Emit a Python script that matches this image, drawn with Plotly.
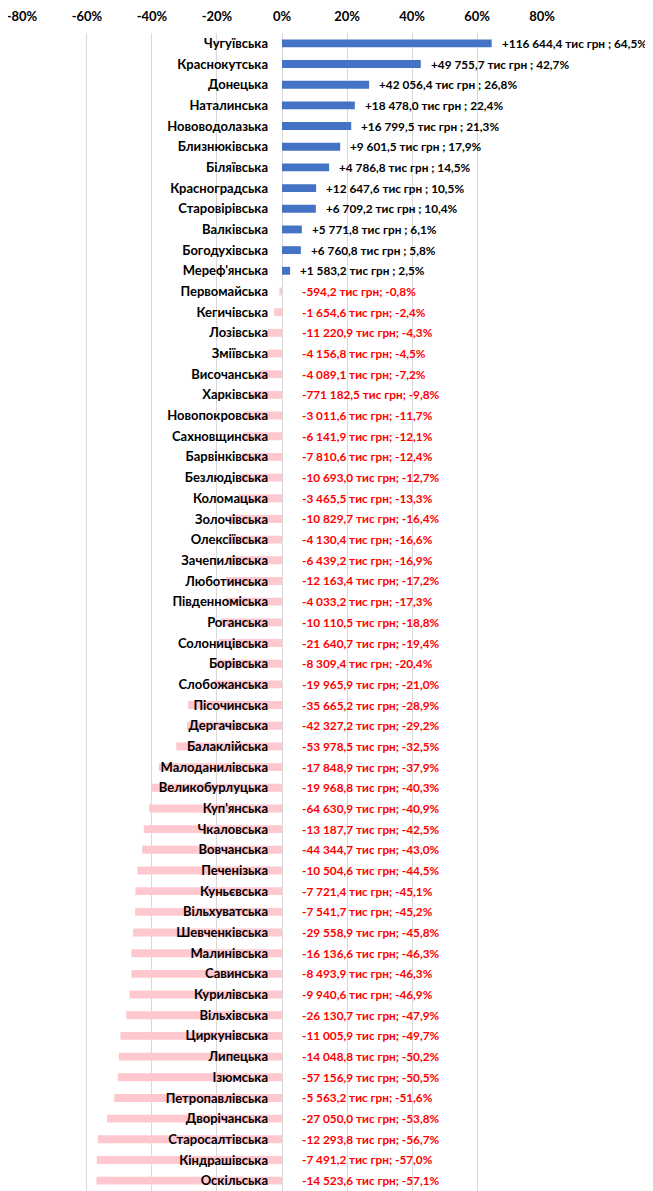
import plotly.graph_objects as go

categories = ["Чугуївська", "Краснокутська", "Донецька", "Наталинська", "Нововодолазька",
              "Близнюківська", "Біляївська", "Красноградська", "Старовірівська", "Валківська",
              "Богодухівська", "Мереф'янська", "Первомайська", "Кегичівська", "Лозівська",
              "Зміївська", "Височанська", "Харківська", "Новопокровська", "Сахновщинська",
              "Барвінківська", "Безлюдівська", "Коломацька", "Золочівська", "Олексіївська",
              "Зачепилівська", "Люботинська", "Південноміська", "Роганська", "Солоницівська",
              "Борівська", "Слобожанська", "Пісочинська", "Дергачівська", "Балаклійська",
              "Малоданилівська", "Великобурлуцька", "Куп'янська", "Чкаловська", "Вовчанська",
              "Печенізька", "Куньєвська", "Вільхуватська", "Шевченківська", "Малинівська",
              "Савинська", "Курилівська", "Вільхівська", "Циркунівська", "Липецька",
              "Ізюмська", "Петропавлівська", "Дворічанська", "Старосалтівська", "Кіндрашівська",
              "Оскільська"]

pct_change = [64.5, 42.7, 26.8, 22.4, 21.3, 17.9, 14.5, 10.5, 10.4, 6.1,
              5.8, 2.5, -0.8, -2.4, -4.3, -4.5, -7.2, -9.8, -11.7, -12.1,
              -12.4, -12.7, -13.3, -16.4, -16.6, -16.9, -17.2, -17.3, -18.8, -19.4,
              -20.4, -21.0, -28.9, -29.2, -32.5, -37.9, -40.3, -40.9, -42.5, -43.0,
              -44.5, -45.1, -45.2, -45.8, -46.3, -46.3, -46.9, -47.9, -49.7, -50.2,
              -50.5, -51.6, -53.8, -56.7, -57.0, -57.1]

amount_change = [116644.4, 49755.7, 42056.4, 18478.0, 16799.5, 9601.5, 4786.8, 12647.6, 6709.2, 5771.8,
                 6760.8, 1583.2, -594.2, -1654.6, -11220.9, -4156.8, -4089.1, -771182.5, -3011.6, -6141.9,
                 -7810.6, -10693.0, -3465.5, -10829.7, -4130.4, -6439.2, -12163.4, -4033.2, -10110.5, -21640.7,
                 -8309.4, -19965.9, -35665.2, -42327.2, -53978.5, -17848.9, -19968.8, -64630.9, -13187.7, -44344.7,
                 -10504.6, -7721.4, -7541.7, -29558.9, -16136.6, -8493.9, -9940.6, -26130.7, -11005.9, -14048.8,
                 -57156.9, -5563.2, -27050.0, -12293.8, -7491.2, -14523.6]

x_tick_vals = [-80, -60, -40, -20, 0, 20, 40, 60, 80]
x_tick_text = ["-80%", "-60%", "-40%", "-20%", "0%", "20%", "40%", "60%", "80%"]

FONT = "Lato"
BLUE = "#4472C4"
PINK = "#FFC7CE"
RED = "#FF0000"


def fmt_num(v):
    return f"{abs(v):,.1f}".replace(",", " ").replace(".", ",")


def fmt_pct(p):
    return f"{p:.1f}".replace(".", ",") + "%"


bar_colors = [BLUE if p >= 0 else PINK for p in pct_change]

fig = go.Figure()
fig.add_trace(go.Bar(
    y=categories, x=pct_change, orientation="h",
    marker=dict(color=bar_colors, line=dict(width=0)),
    width=0.38, hoverinfo="skip",
))

annotations = []
for cat, p, a in zip(categories, pct_change, amount_change):
    if p >= 0:
        annotations.append(dict(
            x=p, y=cat, xref="x", yref="y", xanchor="left", yanchor="middle",
            xshift=8, showarrow=False,
            text=f"+{fmt_num(a)} тис грн ; {fmt_pct(p)}",
            font=dict(family=FONT, size=11.8, color="#000000", weight="bold"),
        ))
    else:
        annotations.append(dict(
            x=0, y=cat, xref="x", yref="y", xanchor="left", yanchor="middle",
            xshift=18, showarrow=False,
            text=f"-{fmt_num(a)} тис грн; {fmt_pct(p)}",
            font=dict(family=FONT, size=11.8, color=RED, weight="bold"),
        ))

# the page body has an 8px margin, so the figure is sized/placed to compensate
fig.update_layout(
    width=645, height=1183,
    margin=dict(l=13, r=110, t=25, b=0, autoexpand=False),
    paper_bgcolor="white", plot_bgcolor="white",
    showlegend=False,
    annotations=annotations,
    xaxis=dict(
        range=[-80.3, 80.3], side="top",
        tickvals=x_tick_vals, ticktext=x_tick_text,
        showgrid=True, gridcolor="#D9D9D9", gridwidth=1,
        zeroline=False, showline=False, ticks="",
        tickfont=dict(family=FONT, size=13, color="#000000", weight="bold"),
        ticklabelstandoff=8, ticklabeloverflow="allow",
        fixedrange=True,
    ),
    yaxis=dict(
        categoryorder="array", categoryarray=categories,
        range=[len(categories) - 0.5, -0.5],
        anchor="free", position=0.5,
        showgrid=False, zeroline=False, showline=False, ticks="",
        tickfont=dict(family=FONT, size=13, color="#000000", weight="bold"),
        ticklabelstandoff=14,
        fixedrange=True,
    ),
)

fig.write_html("out.html")
